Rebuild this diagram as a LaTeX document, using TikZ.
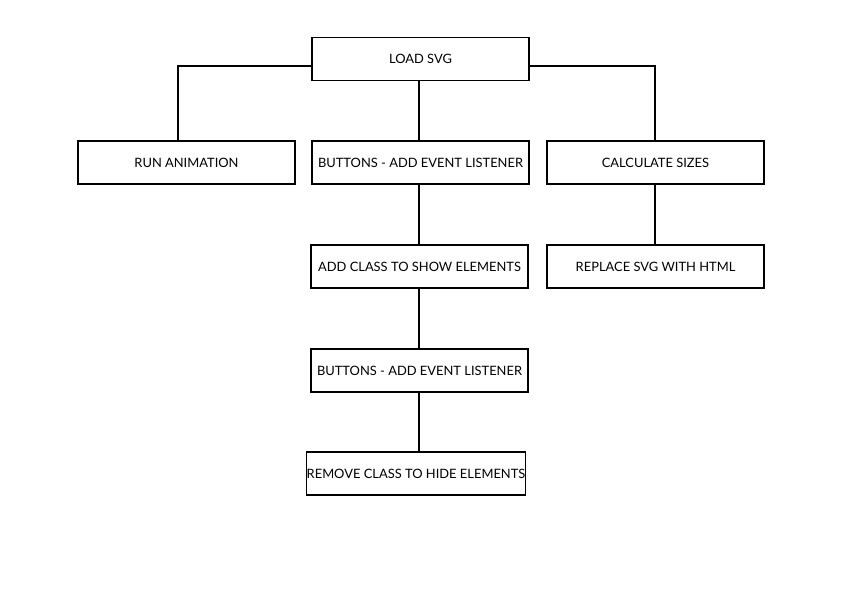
\documentclass[tikz,border=0pt]{standalone}
\usepackage{fontspec}
\setmainfont{Lato}
\begin{document}
\begin{tikzpicture}[x=1pt,y=-1pt,
  box/.style={draw=black,line width=1.5pt,fill=white,minimum width=217pt,minimum height=43pt,inner sep=0pt,font=\fontsize{12.9}{15}\selectfont},
  conn/.style={draw=black,line width=1.5pt}]
\useasboundingbox (0,0) rectangle (842,595);
\node[box] (load) at (420.5,59) {LOAD SVG};
\node[box] (run) at (186.5,162.5) {RUN ANIMATION};
\node[box] (btn1) at (420.5,162.5) {BUTTONS - ADD EVENT LISTENER};
\node[box] (calc) at (655.5,162.5) {CALCULATE SIZES};
\node[box] (add) at (419.5,266.5) {ADD CLASS TO SHOW ELEMENTS};
\node[box] (repl) at (655.5,266.5) {REPLACE SVG WITH HTML};
\node[box] (btn2) at (419.5,370.5) {BUTTONS - ADD EVENT LISTENER};
\node[box] (rem) at (416,473.5) {REMOVE CLASS TO HIDE ELEMENTS};
\draw[conn] (load.west |- 0,66) -| (run.north -| 178,0);
\draw[conn] (load.east |- 0,66) -| (calc.north -| 655,0);
\draw[conn] (load.south -| 419,0) -- (btn1.north -| 419,0);
\draw[conn] (btn1.south -| 419,0) -- (add.north -| 419,0);
\draw[conn] (add.south -| 419,0) -- (btn2.north -| 419,0);
\draw[conn] (btn2.south -| 419,0) -- (rem.north -| 419,0);
\draw[conn] (calc.south -| 655,0) -- (repl.north -| 655,0);
\end{tikzpicture}
\end{document}
